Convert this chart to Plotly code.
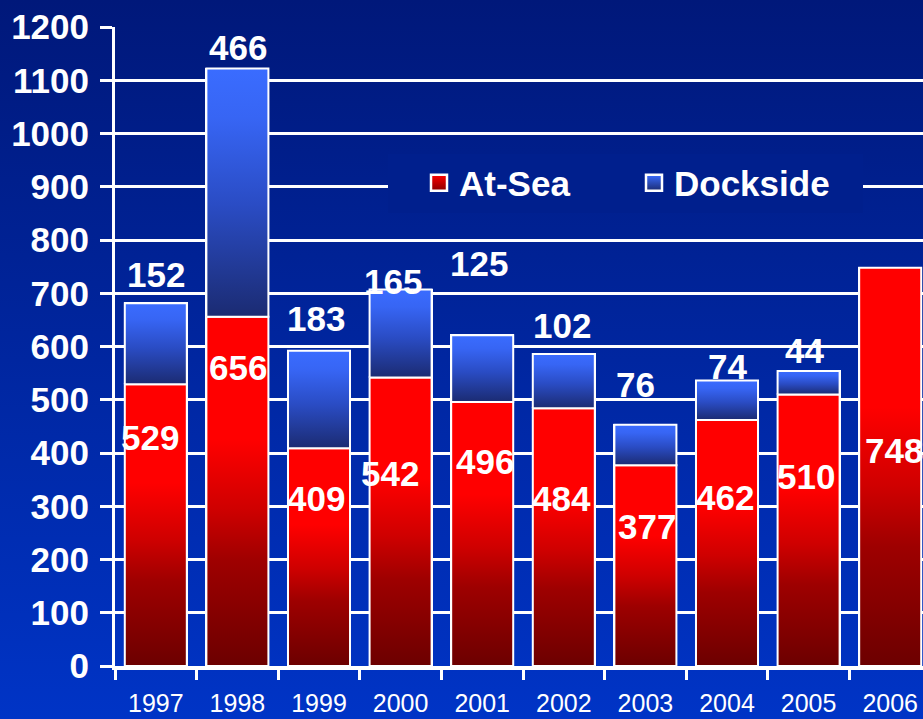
import base64
import plotly.graph_objects as go

# ---------------- data ----------------
years = ["1997", "1998", "1999", "2000", "2001", "2002", "2003", "2004", "2005", "2006"]
at_sea = [529, 656, 409, 542, 496, 484, 377, 462, 510, 748]
dockside = [152, 466, 183, 165, 125, 102, 76, 74, 44, None]
y_ticks = list(range(0, 1201, 100))

# ---------------- style ----------------
W, H = 923, 719
ML, MR, MT, MB = 115, 0, 27, 53
BAR_W = 0.76
FONT = "Arial, Liberation Sans, sans-serif"
RED_SCALE = [[0, "#6c0000"], [0.3, "#9e0000"], [0.45, "#cf0000"], [0.65, "#ff0000"], [1, "#ff0000"]]
BLUE_SCALE = [[0, "#1b2b72"], [0.45, "#2a4cc4"], [0.8, "#3765f4"], [1, "#3a6cff"]]
BG_TOP, BG_BOT = "#00187a", "#0034c6"
LEGEND_BG = "#001f8d"

# label nudges (pixels) relative to segment tops
sea_dx = [-6, 1, -3, -11, 3, -2, 2, -2, -3, 4]
sea_dy = [-53, -51, -50, -96, -60, -90, -61, -78, -82, -183]
dock_dx = [0, 1, -3, -8, -3, -2, -10, 0, -4, 0]
dock_dy = [29, 21, 32, 8, 72, 28, 40, 14, 21, 0]

xs = list(range(len(years)))
x_range = [-0.5, 9.402]

fig = go.Figure()

# base stacked bars
fig.add_trace(go.Bar(x=xs, y=at_sea, name="At-Sea", width=BAR_W, showlegend=False,
                     marker=dict(color="#d00000", line=dict(color="white", width=2)),
                     hoverinfo="skip"))
fig.add_trace(go.Bar(x=xs, y=dockside, name="Dockside", width=BAR_W, showlegend=False,
                     marker=dict(color="#2a4cc4", line=dict(color="white", width=2)),
                     hoverinfo="skip"))

# gradient faces for each bar segment
for i, a in enumerate(at_sea):
    x0, x1 = i - BAR_W / 2, i + BAR_W / 2
    fig.add_trace(go.Scatter(x=[x0, x1, x1, x0, x0], y=[0, 0, a, a, 0], mode="lines",
                             fill="toself", showlegend=False, hoverinfo="skip",
                             line=dict(color="white", width=2),
                             fillgradient=dict(type="vertical", colorscale=RED_SCALE, start=0, stop=a)))
    d = dockside[i]
    if d:
        fig.add_trace(go.Scatter(x=[x0, x1, x1, x0, x0], y=[a, a, a + d, a + d, a], mode="lines",
                                 fill="toself", showlegend=False, hoverinfo="skip",
                                 line=dict(color="white", width=2),
                                 fillgradient=dict(type="vertical", colorscale=BLUE_SCALE, start=a, stop=a + d)))

# legend entries
fig.add_trace(go.Scatter(x=[None], y=[None], mode="markers", name="At-Sea", legend="legend",
                         marker=dict(symbol="square", size=16, color="#ff0000",
                                     gradient=dict(type="vertical", color="#8a0000"),
                                     line=dict(color="white", width=2.5))))
fig.add_trace(go.Scatter(x=[None], y=[None], mode="markers", name="Dockside", legend="legend2",
                         marker=dict(symbol="square", size=16, color="#3a6cff",
                                     gradient=dict(type="vertical", color="#1b2b72"),
                                     line=dict(color="white", width=2.5))))

# value labels
annotations = []
lab_font = dict(family=FONT, size=35, color="white", weight="bold")
for i, a in enumerate(at_sea):
    annotations.append(dict(x=i, y=a, xref="x", yref="y", text=str(a), showarrow=False,
                            font=lab_font, xshift=sea_dx[i], yshift=sea_dy[i],
                            xanchor="center", yanchor="middle"))
    d = dockside[i]
    if d:
        annotations.append(dict(x=i, y=a + d, xref="x", yref="y", text=str(d), showarrow=False,
                                font=lab_font, xshift=dock_dx[i], yshift=dock_dy[i],
                                xanchor="center", yanchor="middle"))

# background gradient
svg = (f'<svg xmlns="http://www.w3.org/2000/svg" width="{W}" height="{H}" preserveAspectRatio="none">'
       f'<defs><linearGradient id="g" x1="0" y1="0" x2="0" y2="1">'
       f'<stop offset="0" stop-color="{BG_TOP}"/><stop offset="1" stop-color="{BG_BOT}"/>'
       f'</linearGradient></defs><rect width="{W}" height="{H}" fill="url(#g)"/></svg>')
src = "data:image/svg+xml;base64," + base64.b64encode(svg.encode()).decode()
pw, ph = W - ML - MR, H - MT - MB

legend_font = dict(family=FONT, size=35, color="white", weight="bold")
legend_y = (666 - 183) / ph

fig.update_layout(
    width=W, height=H,
    margin=dict(l=ML, r=MR, t=MT, b=MB, pad=0, autoexpand=False),
    barmode="stack",
    paper_bgcolor=BG_BOT,
    plot_bgcolor="rgba(0,0,0,0)",
    images=[dict(source=src, xref="paper", yref="paper", x=-ML / pw, y=1 + MT / ph,
                 sizex=W / pw, sizey=H / ph, xanchor="left", yanchor="top",
                 sizing="stretch", layer="below")],
    annotations=annotations,
    showlegend=True,
    legend=dict(orientation="h", x=(388 - ML) / pw, xanchor="left", y=legend_y, yanchor="middle",
                bgcolor=LEGEND_BG, borderwidth=0, indentation=31, font=legend_font,
                itemsizing="trace", entrywidth=164, entrywidthmode="pixels"),
    legend2=dict(orientation="h", x=(625 - ML) / pw, xanchor="left", y=legend_y, yanchor="middle",
                 bgcolor=LEGEND_BG, borderwidth=0, indentation=9, font=legend_font,
                 itemsizing="trace", entrywidth=184, entrywidthmode="pixels"),
    font=dict(family=FONT, color="white"),
)

fig.update_xaxes(
    range=x_range, tickmode="array", tickvals=xs, ticktext=years, ticks="",
    tickfont=dict(family=FONT, size=25, color="white"), ticklabelstandoff=12,
    automargin=False,
    showgrid=False, zeroline=False, showline=True, linecolor="white", linewidth=3.5,
    minor=dict(tick0=-0.5, dtick=1, ticks="outside", ticklen=10, tickwidth=3, tickcolor="white", showgrid=False),
)
fig.update_yaxes(
    range=[0, 1200], tickmode="array", tickvals=y_ticks, ticks="outside", ticklen=12, tickwidth=3,
    tickcolor="white", tickfont=dict(family=FONT, size=35, color="white", weight="bold"),
    ticklabelstandoff=4, automargin=False,
    showgrid=True, gridcolor="white", gridwidth=2.5, zeroline=False,
    showline=True, linecolor="white", linewidth=3,
)

fig.write_html("out.html", config={"displayModeBar": False},
               post_script="document.body.style.margin='0';document.body.style.overflow='hidden';")
